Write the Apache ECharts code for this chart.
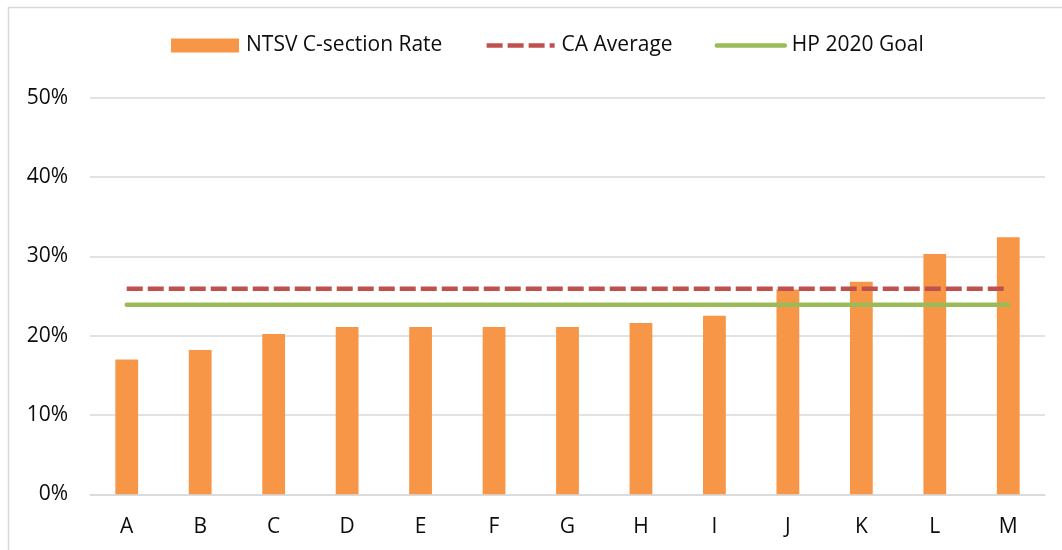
<!DOCTYPE html>
<html>
<head>
<meta charset="utf-8">
<script src="https://cdn.jsdelivr.net/npm/echarts@6/dist/echarts.min.js"></script>
<style>
  html, body { margin: 0; padding: 0; background: #fff; }
  #chart { width: 1062px; height: 550px; }
</style>
</head>
<body>
<div id="chart"></div>
<script>
// hospitals A..M
const categories = ["A", "B", "C", "D", "E", "F", "G", "H", "I", "J", "K", "L", "M"];
// NTSV C-section rate, percent
const csectionRate = [17.0, 18.2, 20.2, 21.1, 21.1, 21.1, 21.1, 21.6, 22.5, 25.8, 26.8, 30.3, 32.4];
// reference lines, percent
const caAverage = [25.9, 25.9, 25.9, 25.9, 25.9, 25.9, 25.9, 25.9, 25.9, 25.9, 25.9, 25.9, 25.9];
const hpGoal = [23.9, 23.9, 23.9, 23.9, 23.9, 23.9, 23.9, 23.9, 23.9, 23.9, 23.9, 23.9, 23.9];
const yTicks = [0, 10, 20, 30, 40, 50];

const FONT = "Open Sans";
const TEXT_COLOR = "#0d0d0d";
const ORANGE = "#F79646";
const RED = "#C0504D";
const GREEN = "#9BBB59";
const DASH = [16, 5];

const myChart = echarts.init(document.getElementById("chart"), null, { renderer: "canvas" });

const option = {
  animation: false,
  backgroundColor: "#ffffff",
  textStyle: { fontFamily: FONT },
  graphic: [
    {
      // chart frame (Excel chart area border)
      type: "rect",
      shape: { x: 8.5, y: 7.5, width: 1100, height: 600 },
      style: { fill: null, stroke: "#d9d9d9", lineWidth: 1.5 },
      silent: true,
      z: -1,
    },
  ],
  legend: {
    left: 171,
    top: 35,
    padding: 0,
    itemWidth: 68,
    itemHeight: 14,
    itemGap: 42,
    textStyle: { fontFamily: FONT, fontSize: 21, color: TEXT_COLOR, padding: [0, 0, 0, 2] },
    data: [
      { name: "NTSV C-section Rate", icon: "rect" },
      {
        name: "CA Average",
        itemStyle: { opacity: 0 },
        lineStyle: { color: RED, width: 4.5, type: DASH, opacity: 1 },
      },
      {
        name: "HP 2020 Goal",
        itemStyle: { opacity: 0 },
        lineStyle: { color: GREEN, width: 4.5, cap: "round", opacity: 1 },
      },
    ],
  },
  grid: {
    left: 90,
    right: 17,
    top: 97.6,
    bottom: 55.7,
    containLabel: false,
  },
  xAxis: {
    type: "category",
    data: categories,
    axisTick: { show: false },
    axisLine: { show: true, lineStyle: { color: "#d9d9d9", width: 1.5 } },
    axisLabel: { fontFamily: FONT, fontSize: 21, color: TEXT_COLOR, margin: 22 },
  },
  yAxis: {
    type: "value",
    min: yTicks[0],
    max: yTicks[yTicks.length - 1],
    interval: 10,
    axisLine: { show: false },
    axisTick: { show: false },
    splitLine: { lineStyle: { color: "#d9d9d9", width: 1.5 } },
    axisLabel: {
      fontFamily: FONT,
      fontSize: 21,
      color: TEXT_COLOR,
      margin: 22,
      formatter: "{value}%",
    },
  },
  series: [
    {
      name: "NTSV C-section Rate",
      type: "bar",
      data: csectionRate,
      barWidth: "31%",
      itemStyle: { color: ORANGE },
      z: 1,
    },
    {
      name: "CA Average",
      type: "line",
      data: caAverage,
      symbol: "none",
      color: RED,
      lineStyle: { color: RED, width: 4.5, type: DASH },
      z: 3,
    },
    {
      name: "HP 2020 Goal",
      type: "line",
      data: hpGoal,
      symbol: "none",
      color: GREEN,
      lineStyle: { color: GREEN, width: 4.5, cap: "round" },
      z: 2,
    },
  ],
};

myChart.setOption(option);
</script>
</body>
</html>
